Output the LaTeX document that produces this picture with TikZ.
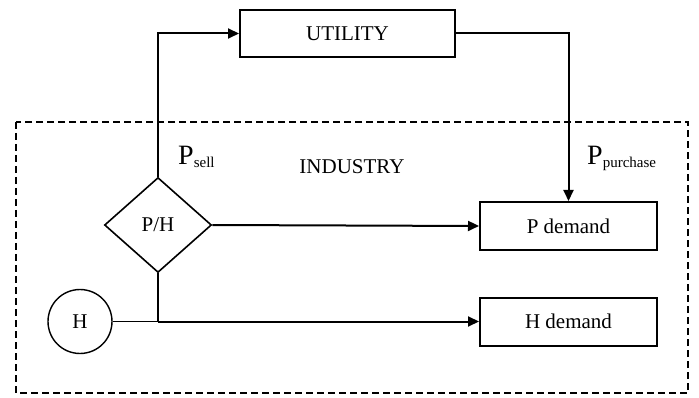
\documentclass[tikz,border=0pt]{standalone}
\usepackage{fontspec}
\setmainfont{Liberation Serif}
\usetikzlibrary{shapes.geometric,arrows.meta}
\begin{document}
\begin{tikzpicture}[x=1pt,y=-1pt,
  box/.style={draw,line width=2pt,inner sep=0pt,font=\fontsize{21}{22}\selectfont},
  conn/.style={line width=2pt},
  arr/.style={conn,-{Triangle[length=11pt,width=10pt]}},
  lbl/.style={inner sep=0pt,anchor=base west}]
\useasboundingbox (0,0) rectangle (699,398);
\draw[line width=1.6pt,dash pattern=on 7pt off 4pt] (16,122) rectangle (688,393);
\node[box,minimum width=215pt,minimum height=47pt] (util) at (347.5,33.5) {UTILITY};
\node[box,minimum width=177pt,minimum height=48pt] (pd) at (568.5,226) {P demand};
\node[box,minimum width=177pt,minimum height=48pt] (hd) at (568.5,321.5) {H demand};
\node[box,diamond,line width=1.6pt,minimum width=107pt,minimum height=95pt] (ph) at (158,225) {P/H};
\node[box,circle,line width=1.4pt,minimum size=64pt] (h) at (80,321.5) {H};
\node[inner sep=0pt,font=\fontsize{21}{22}\selectfont] (ind) at (352,167) {INDUSTRY};
\node[lbl] (psell) at (178,165) {\fontsize{28}{28}\selectfont P\fontsize{15}{15}\selectfont\raisebox{-3pt}{sell}};
\node[lbl] (ppur) at (587,165) {\fontsize{28}{28}\selectfont P\fontsize{15}{15}\selectfont\raisebox{-3pt}{purchase}};
\coordinate (j) at (ph.south |- h.east);
\draw[arr] (ph.north) |- (util.west);
\draw[arr] (util.east) -| (pd.north);
\draw[arr] (ph.east) -- (pd.west);
\draw[conn] (ph.south) -- (j);
\draw[conn,line width=1.2pt] (h.east) -- (j);
\draw[arr] (j) -- (hd.west);
\end{tikzpicture}
\end{document}
